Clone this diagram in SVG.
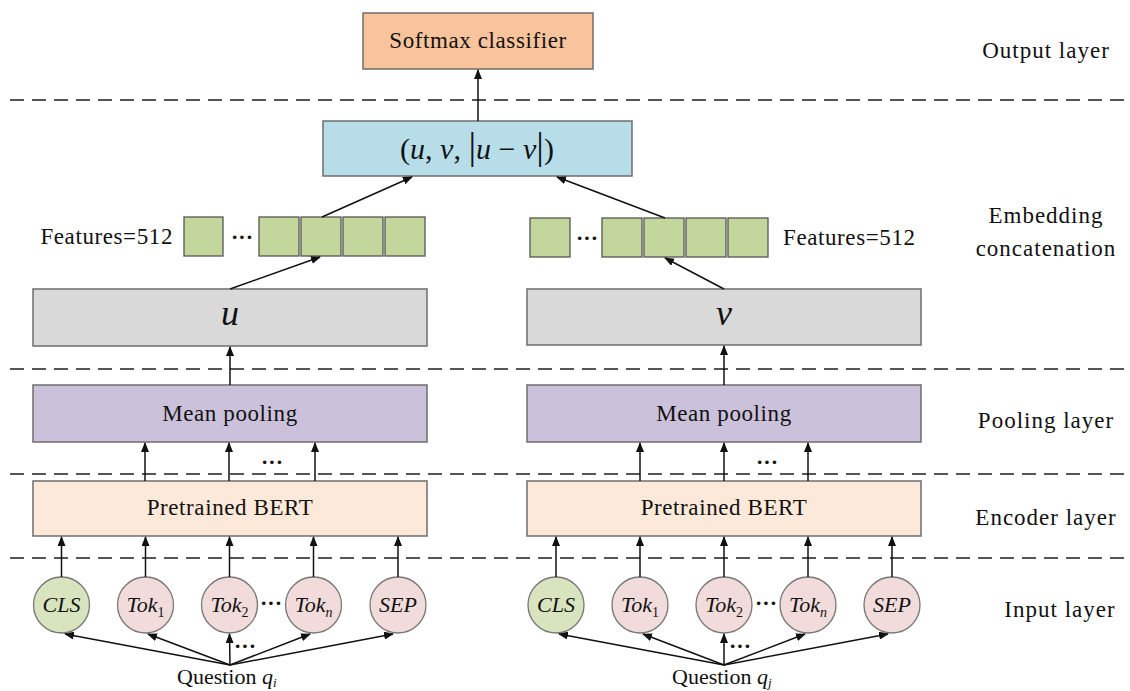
<svg xmlns="http://www.w3.org/2000/svg" width="1130" height="691" viewBox="0 0 1130 691" font-family="'Liberation Serif', 'DejaVu Serif', serif">
<style>
text{font-family:'Liberation Serif','DejaVu Serif',serif;fill:#111}
.lbl{font-size:23px;letter-spacing:0.6px}
.lay{font-size:23px;letter-spacing:1px;text-anchor:middle}
.box{stroke:#6d6d6d;stroke-width:1.5}
.sq{fill:#c3d69b;stroke:#555;stroke-width:1.3}
.dash{stroke:#555;stroke-width:2;stroke-dasharray:14 8;fill:none}
.ar{stroke:#111;stroke-width:1.5;fill:none;marker-end:url(#ah)}
.it{font-style:italic}
.circ{stroke:#777;stroke-width:1.3}
.dots{font-size:22px;font-weight:bold;text-anchor:middle}
</style>
<defs>
<marker id="ah" markerUnits="userSpaceOnUse" markerWidth="10" markerHeight="8" refX="9" refY="4" orient="auto">
<path d="M0,0 L10,4 L0,8 z" fill="#111"/>
</marker>
</defs>
<g id="separators">
<line class="dash" x1="10" y1="100" x2="1130" y2="100"/>
<line class="dash" x1="10" y1="369" x2="1130" y2="369"/>
<line class="dash" x1="10" y1="474" x2="1130" y2="474"/>
<line class="dash" x1="10" y1="558" x2="1130" y2="558"/>
</g>
<g id="layer-labels">
<text class="lay" x="1046" y="58">Output layer</text>
<text class="lay" x="1046" y="223">Embedding</text>
<text class="lay" x="1046" y="256">concatenation</text>
<text class="lay" x="1046" y="428">Pooling layer</text>
<text class="lay" x="1046" y="525">Encoder layer</text>
<text class="lay" x="1060" y="617">Input layer</text>
</g>
<g id="softmax">
<rect class="box" x="363" y="13" width="230" height="56" fill="#f9c39b"/>
<text class="lbl" x="478" y="48" text-anchor="middle">Softmax classifier</text>
</g>
<g id="concat">
<rect class="box" x="323" y="121" width="309" height="55" fill="#b7dde8"/>
<text x="477" y="159" text-anchor="middle" font-size="30"><tspan>(</tspan><tspan class="it">u</tspan><tspan>, </tspan><tspan class="it">v</tspan><tspan>, </tspan><tspan font-size="38">|</tspan><tspan class="it">u</tspan><tspan> − </tspan><tspan class="it">v</tspan><tspan font-size="38">|</tspan><tspan>)</tspan></text>
</g>
<g id="features-left">
<text class="lbl" x="173" y="244" text-anchor="end" letter-spacing="0.3">Features=512</text>
<rect class="sq" x="184" y="217" width="39" height="39"/>
<text class="dots" x="242" y="244">···</text>
<rect class="sq" x="259" y="217" width="40" height="39"/>
<rect class="sq" x="301" y="217" width="40" height="39"/>
<rect class="sq" x="343" y="217" width="40" height="39"/>
<rect class="sq" x="385" y="217" width="40" height="39"/>
</g>
<g id="features-right">
<rect class="sq" x="530" y="218" width="40" height="39"/>
<text class="dots" x="587" y="245">···</text>
<rect class="sq" x="602" y="218" width="40" height="39"/>
<rect class="sq" x="644" y="218" width="40" height="39"/>
<rect class="sq" x="686" y="218" width="40" height="39"/>
<rect class="sq" x="728" y="218" width="40" height="39"/>
<text class="lbl" x="783" y="245" letter-spacing="0.3">Features=512</text>
</g>
<g id="u-box">
<rect class="box" x="33" y="289" width="394" height="57" fill="#d9d9d9"/>
<text class="it" x="230" y="325" text-anchor="middle" font-size="36">u</text>
</g>
<g id="v-box">
<rect class="box" x="527" y="289" width="394" height="56" fill="#d9d9d9"/>
<text class="it" x="724" y="325" text-anchor="middle" font-size="36">v</text>
</g>
<g id="pool-left">
<rect class="box" x="33" y="385" width="394" height="57" fill="#ccc1da"/>
<text class="lbl" x="230" y="421" text-anchor="middle">Mean pooling</text>
</g>
<g id="pool-right">
<rect class="box" x="527" y="385" width="394" height="57" fill="#ccc1da"/>
<text class="lbl" x="724" y="421" text-anchor="middle">Mean pooling</text>
</g>
<g id="bert-left">
<rect class="box" x="33" y="481" width="394" height="55" fill="#fde9d9"/>
<text class="lbl" x="230" y="515" text-anchor="middle">Pretrained BERT</text>
</g>
<g id="bert-right">
<rect class="box" x="527" y="481" width="394" height="55" fill="#fde9d9"/>
<text class="lbl" x="724" y="515" text-anchor="middle">Pretrained BERT</text>
</g>
<g id="tokens-left">
<g id="cls-l"><circle class="circ" cx="61.5" cy="605" r="28" fill="#d7e4bd"/><text class="it" x="61.5" y="612" text-anchor="middle" font-size="22">CLS</text></g>
<g id="tok1-l"><circle class="circ" cx="145.5" cy="605" r="28" fill="#f2dcdb"/><text x="145.5" y="612" text-anchor="middle" font-size="22"><tspan class="it">Tok</tspan><tspan font-size="14" dy="5">1</tspan></text></g>
<g id="tok2-l"><circle class="circ" cx="229.5" cy="605" r="28" fill="#f2dcdb"/><text x="229.5" y="612" text-anchor="middle" font-size="22"><tspan class="it">Tok</tspan><tspan font-size="14" dy="5">2</tspan></text></g>
<g id="tokn-l"><circle class="circ" cx="313.5" cy="605" r="28" fill="#f2dcdb"/><text x="313.5" y="612" text-anchor="middle" font-size="22"><tspan class="it">Tok</tspan><tspan class="it" font-size="14" dy="5">n</tspan></text></g>
<g id="sep-l"><circle class="circ" cx="398" cy="605" r="28" fill="#f2dcdb"/><text class="it" x="398" y="612" text-anchor="middle" font-size="22">SEP</text></g>
<text class="dots" x="271" y="610">···</text>
<text class="dots" x="245" y="653">···</text>
<text x="177" y="684" font-size="22">Question <tspan class="it">q</tspan><tspan class="it" font-size="13" dy="3">i</tspan></text>
</g>
<g id="tokens-right">
<g id="cls-r"><circle class="circ" cx="556" cy="605" r="28" fill="#d7e4bd"/><text class="it" x="556" y="612" text-anchor="middle" font-size="22">CLS</text></g>
<g id="tok1-r"><circle class="circ" cx="640" cy="605" r="28" fill="#f2dcdb"/><text x="640" y="612" text-anchor="middle" font-size="22"><tspan class="it">Tok</tspan><tspan font-size="14" dy="5">1</tspan></text></g>
<g id="tok2-r"><circle class="circ" cx="724" cy="605" r="28" fill="#f2dcdb"/><text x="724" y="612" text-anchor="middle" font-size="22"><tspan class="it">Tok</tspan><tspan font-size="14" dy="5">2</tspan></text></g>
<g id="tokn-r"><circle class="circ" cx="808" cy="605" r="28" fill="#f2dcdb"/><text x="808" y="612" text-anchor="middle" font-size="22"><tspan class="it">Tok</tspan><tspan class="it" font-size="14" dy="5">n</tspan></text></g>
<g id="sep-r"><circle class="circ" cx="892" cy="605" r="28" fill="#f2dcdb"/><text class="it" x="892" y="612" text-anchor="middle" font-size="22">SEP</text></g>
<text class="dots" x="766" y="610">···</text>
<text class="dots" x="740" y="653">···</text>
<text x="672" y="684" font-size="22">Question <tspan class="it">q</tspan><tspan class="it" font-size="13" dy="3">j</tspan></text>
</g>
<g id="dots-pool">
<text class="dots" x="272" y="469">···</text>
<text class="dots" x="767" y="469">···</text>
</g>
<g id="connectors">
<line class="ar" x1="478" y1="121" x2="478" y2="70"/>
<line class="ar" x1="322" y1="217" x2="412" y2="177"/>
<line class="ar" x1="665" y1="218" x2="557" y2="177"/>
<line class="ar" x1="230" y1="289" x2="320" y2="257"/>
<line class="ar" x1="724" y1="289" x2="665" y2="258"/>
<line class="ar" x1="230" y1="385" x2="230" y2="347"/>
<line class="ar" x1="724" y1="385" x2="724" y2="346"/>
<line class="ar" x1="145" y1="481" x2="145" y2="443"/>
<line class="ar" x1="229" y1="481" x2="229" y2="443"/>
<line class="ar" x1="315" y1="481" x2="315" y2="443"/>
<line class="ar" x1="640" y1="481" x2="640" y2="443"/>
<line class="ar" x1="724" y1="481" x2="724" y2="443"/>
<line class="ar" x1="808" y1="481" x2="808" y2="443"/>
<line class="ar" x1="61.5" y1="577" x2="61.5" y2="537"/>
<line class="ar" x1="145.5" y1="577" x2="145.5" y2="537"/>
<line class="ar" x1="229.5" y1="577" x2="229.5" y2="537"/>
<line class="ar" x1="313.5" y1="577" x2="313.5" y2="537"/>
<line class="ar" x1="398" y1="577" x2="398" y2="537"/>
<line class="ar" x1="556" y1="577" x2="556" y2="537"/>
<line class="ar" x1="640" y1="577" x2="640" y2="537"/>
<line class="ar" x1="724" y1="577" x2="724" y2="537"/>
<line class="ar" x1="808" y1="577" x2="808" y2="537"/>
<line class="ar" x1="892" y1="577" x2="892" y2="537"/>
<line class="ar" x1="230" y1="665" x2="65" y2="634"/>
<line class="ar" x1="230" y1="665" x2="148" y2="634"/>
<line class="ar" x1="230" y1="665" x2="229.5" y2="634"/>
<line class="ar" x1="230" y1="665" x2="310" y2="634"/>
<line class="ar" x1="230" y1="665" x2="393" y2="634"/>
<line class="ar" x1="724" y1="665" x2="559" y2="634"/>
<line class="ar" x1="724" y1="665" x2="643" y2="634"/>
<line class="ar" x1="724" y1="665" x2="724" y2="634"/>
<line class="ar" x1="724" y1="665" x2="805" y2="634"/>
<line class="ar" x1="724" y1="665" x2="888" y2="634"/>
</g>
</svg>
